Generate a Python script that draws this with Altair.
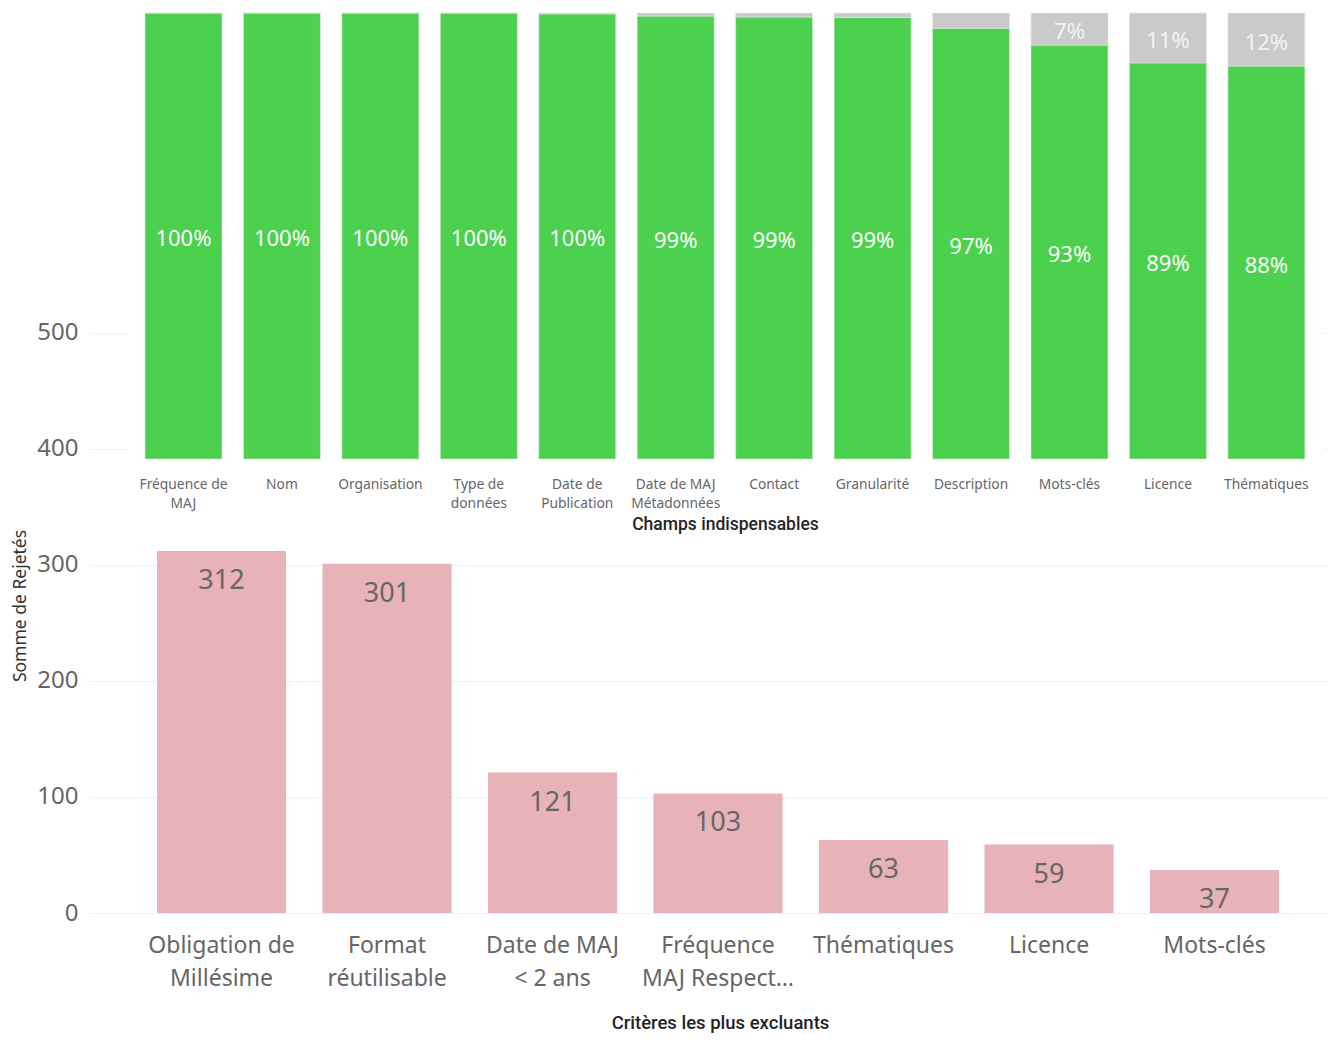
import altair as alt
import pandas as pd

# ---- data ----
top_fields = ["Fréquence de|MAJ", "Nom", "Organisation", "Type de|données", "Date de|Publication",
              "Date de MAJ|Métadonnées", "Contact", "Granularité", "Description", "Mots-clés",
              "Licence", "Thématiques"]
top_ok_pct = [100, 100, 100, 100, 99.8, 99.3, 99.1, 99.0, 96.6, 92.8, 88.8, 88.1]

crit = ["Obligation de|Millésime", "Format|réutilisable", "Date de MAJ|< 2 ans",
        "Fréquence|MAJ Respect…", "Thématiques", "Licence", "Mots-clés"]
rejected = [312, 301, 121, 103, 63, 59, 37]

# ---- tables ----
rows = []
for f, ok in zip(top_fields, top_ok_pct):
    g = ok / 100.0
    rows.append({"field": f, "seg": "ok", "y0": 0.0, "y1": g, "share": g, "mid": g / 2})
    rows.append({"field": f, "seg": "ko", "y0": g, "y1": 1.0, "share": 1 - g, "mid": (g + 1) / 2})
df_top = pd.DataFrame(rows)
df_bot = pd.DataFrame({"crit": crit, "rej": rejected})

FONT = "Noto Sans"
TITLE_FONT = "Roboto"
W = 1238
H = 905

# ---- bottom chart ----
xb = alt.X("crit:N", sort=crit,
           scale=alt.Scale(range=[0, W], paddingInner=0.22, paddingOuter=0.3502, align=0.578),
           axis=alt.Axis(orient="bottom", labelAngle=0, labelExpr="split(datum.label, '|')",
                         labelFont=FONT, labelFontSize=23, labelLineHeight=33, labelColor="#666666",
                         labelPadding=21, ticks=False, domain=False, grid=False,
                         title="Critères les plus excluants", titleFont=TITLE_FONT,
                         titleFontSize=18.5, titleFontWeight=500, titleColor="#252423",
                         titlePadding=23, titleX=630))
yb = alt.Y("rej:Q",
           scale=alt.Scale(domain=[0, 530], range=[905, 290], nice=False, zero=True),
           axis=alt.Axis(values=[0, 100, 200, 300, 400, 500], labelFont=FONT, labelFontSize=24,
                         labelColor="#666666", labelPadding=12, ticks=False, domain=False,
                         grid=True, gridColor="#efefef", gridWidth=1,
                         title="Somme de Rejetés", titleFont=FONT, titleFontSize=17.5,
                         titleFontWeight="normal", titleColor="#333333", titlePadding=7))

bot_bars = alt.Chart(df_bot).mark_bar(color="#e8b3b8").encode(x=xb, y=yb)
bot_text = alt.Chart(df_bot).mark_text(font=FONT, fontSize=27, color="#666666",
                                       baseline="middle", dy=30).encode(
    x=alt.X("crit:N", sort=crit), y="rej:Q", text="rej:Q")
bottom = alt.layer(bot_bars, bot_text)

# ---- top chart ----
xt = alt.X("field:N", sort=top_fields,
           scale=alt.Scale(range=[0, W], paddingInner=0.218, paddingOuter=0.3966, align=0.704),
           axis=alt.Axis(orient="bottom", offset=-454, labelAngle=0,
                         labelExpr="split(datum.label, '|')", labelFont=FONT, labelFontSize=13.8,
                         labelLineHeight=19, labelColor="#666666", labelPadding=18,
                         ticks=False, domain=False, grid=False,
                         title="Champs indispensables", titleFont=TITLE_FONT, titleFontSize=17.5,
                         titleFontWeight=500, titleColor="#252423", titlePadding=6, titleX=635))
yscale = alt.Scale(domain=[0, 1], range=[451, 5], nice=False)

top_bg = alt.Chart(df_top).transform_filter("datum.seg == 'ok'").transform_calculate(
    lo="0", hi="1").mark_bar(color="white", width=114).encode(
    x=xt, y=alt.Y("lo:Q", scale=yscale, axis=None), y2="hi:Q")

top_bars = alt.Chart(df_top).mark_bar(stroke="#e6e6e6", strokeWidth=0.6).encode(
    x=alt.X("field:N", sort=top_fields),
    y=alt.Y("y0:Q", scale=yscale, axis=None), y2="y1:Q",
    color=alt.Color("seg:N", scale=alt.Scale(domain=["ok", "ko"], range=["#4bd14d", "#cacaca"]),
                    legend=None))

top_text = alt.Chart(df_top).transform_filter("datum.share >= 0.05").mark_text(
    font=FONT, fontSize=22, baseline="middle", dy=3).encode(
    x=alt.X("field:N", sort=top_fields),
    y=alt.Y("mid:Q", scale=yscale, axis=None),
    text=alt.Text("share:Q", format=".0%"),
    color=alt.condition("datum.seg == 'ok'", alt.value("#ffffff"), alt.value("#f4f4f4")))

top = alt.layer(top_bg, top_bars, top_text)

chart = alt.layer(bottom, top).resolve_scale(
    x="independent", y="independent", color="independent").properties(
    width=W, height=H,
    autosize=alt.AutoSizeParams(type="none"),
    padding={"left": 82, "top": 0, "right": 0, "bottom": 122},
    background="white",
).configure_view(stroke=None)

chart.save("out.html", embed_options={"renderer": "svg", "actions": False})
